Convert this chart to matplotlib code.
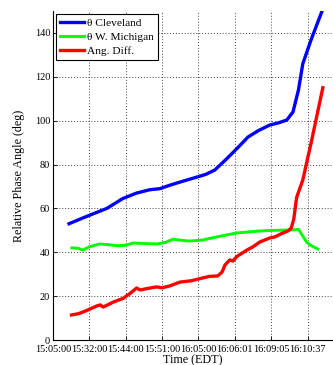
import matplotlib
matplotlib.use("Agg")
import matplotlib.pyplot as plt

tick_labels = ["15:05:00", "15:32:00", "15:44:00", "15:51:00",
               "16:05:00", "16:06:01", "16:09:05", "16:10:37"]

blue_t = [0.44, 0.8, 1.1, 1.48, 1.92, 2.3, 2.66, 2.94, 3.2, 3.49, 3.9, 4.2, 4.45,
          4.8, 5.1, 5.36, 5.65, 5.96, 6.2, 6.43, 6.6, 6.75, 6.87, 7.1, 7.39]
blue_v = [53, 55.5, 57.5, 60, 64.5, 67, 68.5, 69, 70.5, 72, 74, 75.5, 77.5,
          83, 88, 92.5, 95.5, 98, 99, 100.3, 104, 114, 126, 137, 149.6]

green_t = [0.52, 0.7, 0.82, 1.0, 1.29, 1.5, 1.76, 2.0, 2.2, 2.5, 2.86, 3.1, 3.3,
           3.5, 3.76, 4.12, 4.5, 5.05, 5.4, 5.69, 6.1, 6.6, 6.75, 6.98, 7.1, 7.28]
green_v = [42, 41.8, 41, 42.5, 43.8, 43.5, 43, 43.2, 44.2, 44, 43.8, 44.5, 46,
           45.5, 45.1, 45.6, 47, 48.8, 49.3, 49.7, 50, 50.2, 50.5, 44.5, 43, 41.5]

red_t = [0.51, 0.7, 0.83, 1.0, 1.2, 1.3, 1.38, 1.66, 1.93, 2.1, 2.3, 2.4, 2.6,
         2.85, 3.0, 3.2, 3.49, 3.8, 4.12, 4.3, 4.53, 4.65, 4.73, 4.86, 4.95, 5.05,
         5.33, 5.5, 5.69, 5.96, 6.1, 6.32, 6.46, 6.55, 6.62, 6.7, 6.87, 7.1, 7.42]
red_v = [11.4, 12, 12.8, 14, 15.5, 16, 15, 17.3, 19, 21, 23.7, 22.8, 23.5,
         24.2, 23.8, 24.6, 26.4, 27, 28.3, 29, 29.2, 31, 34.2, 36.5, 36, 38,
         41, 42.5, 44.7, 46.5, 47, 48.8, 49.7, 51, 55, 65, 73, 90, 115]

plt.rcParams['font.family'] = ['Liberation Serif', 'DejaVu Serif']

fig = plt.figure(figsize=(3.33, 3.65), dpi=100)
ax = fig.add_axes([53/333, 25/365, 280/333, 329/365])

ax.plot(blue_t, blue_v, color='#0000ff', lw=2.4, label='θ Cleveland')
ax.plot(green_t, green_v, color='#00ff00', lw=2.1, label='θ W. Michigan')
ax.plot(red_t, red_v, color='#ff0000', lw=2.4, label='Ang. Diff.')

ax.set_xlim(0, 7.7)
ax.set_ylim(0, 150)
ax.set_xticks(range(len(tick_labels)))
ax.set_xticklabels(tick_labels, fontsize=7.4)
ax.set_yticks([0, 20, 40, 60, 80, 100, 120, 140])
ax.tick_params(axis='y', labelsize=7.4, pad=2)
ax.tick_params(axis='x', pad=3.5)
ax.tick_params(direction='in', length=3, width=0.6)
ax.grid(True, linestyle=(0, (1, 2)), color='#444444', lw=0.7)
for s in ['top', 'right']:
    ax.spines[s].set_visible(False)
for s in ['left', 'bottom']:
    ax.spines[s].set_linewidth(0.8)

ax.set_xlabel('Time (EDT)', fontsize=8.7, labelpad=0)
ax.set_ylabel('Relative Phase Angle (deg)', fontsize=8.7, labelpad=7)

leg = ax.legend(loc='upper left', fontsize=8.2, frameon=True, fancybox=False,
                edgecolor='black', framealpha=1, borderpad=0.35, labelspacing=0.38,
                handlelength=2.1, handletextpad=0.3, borderaxespad=0.25)
leg.get_frame().set_linewidth(0.8)

fig.savefig('out.png', dpi=100)
